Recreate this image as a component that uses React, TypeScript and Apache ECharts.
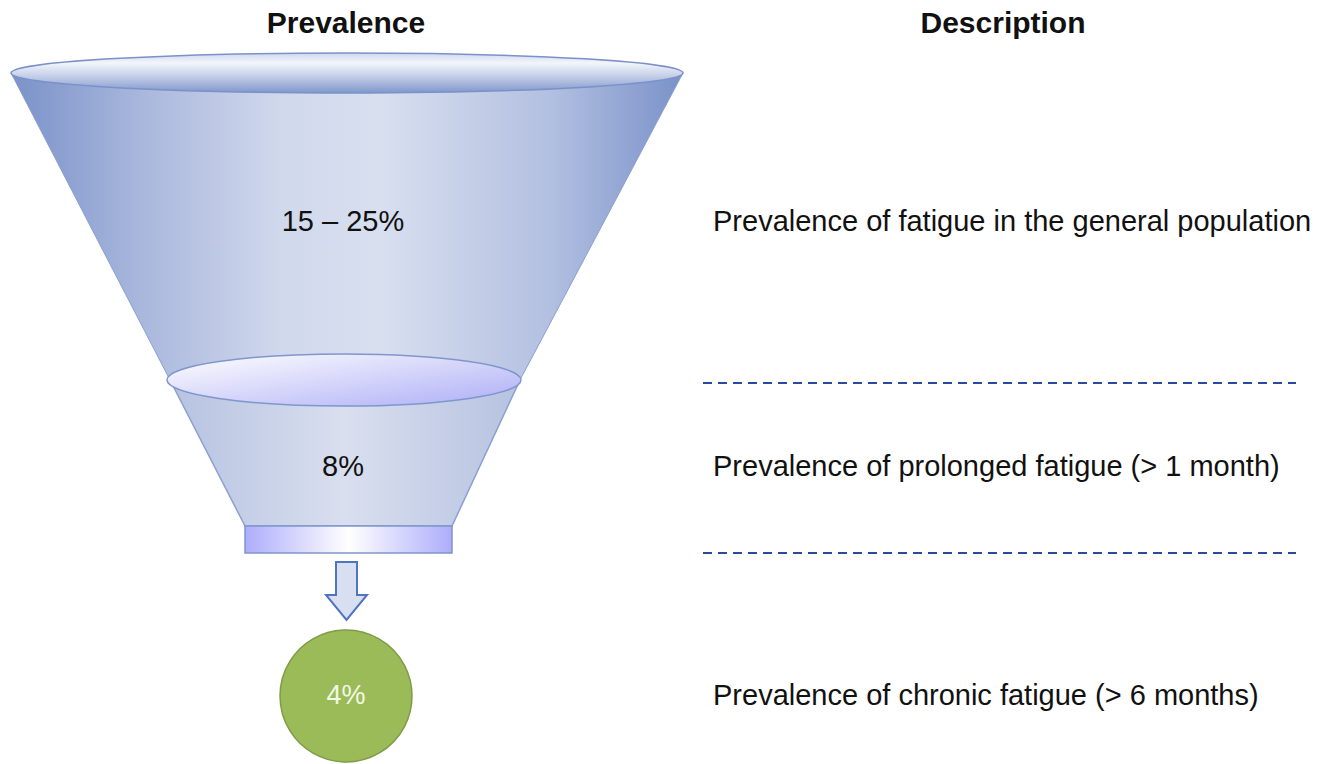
import React, { useEffect, useRef } from "react";
import * as echarts from "echarts";

const headers = ["Prevalence", "Description"];
const prevalenceLabels = ["15 – 25%", "8%", "4%"];
const descriptions = [
  "Prevalence of fatigue in the general population",
  "Prevalence of prolonged fatigue (> 1 month)",
  "Prevalence of chronic fatigue (> 6 months)",
];

const FONT = '"Liberation Sans", Arial, sans-serif';

function txt(text: string, x: number, y: number, opts: any = {}) {
  const align = opts.align || "center";
  return {
    type: "text",
    x,
    y,
    z: 10,
    style: {
      text,
      fontSize: opts.size || 29,
      fontFamily: FONT,
      fontWeight: opts.bold ? "bold" : "normal",
      fill: opts.color || "#111111",
      align,
      verticalAlign: "middle",
      textAlign: align,
      textVerticalAlign: "middle",
    },
  };
}

export default function App() {
  const ref = useRef<HTMLDivElement>(null);
  useEffect(() => {
    document.body.style.margin = "0";
    const chart = echarts.init(ref.current!, null, { renderer: "svg" });
    const L = echarts.graphic.LinearGradient;
    const rowY = [221, 466, 695];
    const elements: any[] = [
      // upper funnel body
      {
        type: "polygon",
        z: 1,
        shape: { points: [[11, 73], [683, 73], [520, 380], [170, 380]] },
        style: {
          fill: new L(0, 0, 1, 0, [
            { offset: 0, color: "#7a92c9" },
            { offset: 0.2, color: "#aab8dd" },
            { offset: 0.4, color: "#d0d8ec" },
            { offset: 0.55, color: "#d8dfef" },
            { offset: 0.8, color: "#b3c0e1" },
            { offset: 1, color: "#7a92c9" },
          ]),
          stroke: "#8aa0d2",
          lineWidth: 1,
        },
      },
      // lower funnel body
      {
        type: "polygon",
        z: 1,
        shape: { points: [[170, 380], [520, 380], [452, 526], [245, 526]] },
        style: {
          fill: new L(0, 0, 1, 0, [
            { offset: 0, color: "#b6c2e1" },
            { offset: 0.5, color: "#d9dfee" },
            { offset: 1, color: "#b6c2e1" },
          ]),
          stroke: "#8aa0d2",
          lineWidth: 1.5,
        },
      },
      // middle ellipse
      {
        type: "ellipse",
        z: 2,
        shape: { cx: 344, cy: 380, rx: 177, ry: 26 },
        style: {
          fill: new L(0, 0, 1, 1, [
            { offset: 0, color: "#ffffff" },
            { offset: 1, color: "#adadf7" },
          ]),
          stroke: "#7f97cc",
          lineWidth: 1.5,
        },
      },
      // top ellipse
      {
        type: "ellipse",
        z: 2,
        shape: { cx: 347, cy: 73, rx: 336, ry: 20 },
        style: {
          fill: new L(0, 0, 0, 1, [
            { offset: 0, color: "#cfd8ee" },
            { offset: 0.25, color: "#f3f5fb" },
            { offset: 0.55, color: "#c9d2ea" },
            { offset: 1, color: "#7f97cc" },
          ]),
          stroke: "#7a92c9",
          lineWidth: 1.5,
        },
      },
      // bottom rim rect
      {
        type: "rect",
        z: 2,
        shape: { x: 245, y: 526, width: 207, height: 27 },
        style: {
          fill: new L(0, 0, 1, 0, [
            { offset: 0, color: "#adadfc" },
            { offset: 0.5, color: "#ffffff" },
            { offset: 1, color: "#adadfc" },
          ]),
          stroke: "#7f97cc",
          lineWidth: 1.5,
        },
      },
      // arrow
      {
        type: "polygon",
        z: 2,
        shape: {
          points: [
            [336, 562], [357, 562], [357, 595], [367, 595],
            [346.5, 620], [326, 595], [336, 595],
          ],
        },
        style: { fill: "#d8dff0", stroke: "#4f74c0", lineWidth: 2 },
      },
      // circle
      {
        type: "circle",
        z: 2,
        shape: { cx: 346, cy: 696, r: 66 },
        style: { fill: "#9bbb59", stroke: "#7f9c46", lineWidth: 1.5 },
      },
      // dashed separators
      {
        type: "line",
        z: 2,
        shape: { x1: 703, y1: 383, x2: 1296, y2: 383 },
        style: { stroke: "#2a4a9e", lineWidth: 2, lineDash: [9, 6] },
      },
      {
        type: "line",
        z: 2,
        shape: { x1: 703, y1: 553, x2: 1296, y2: 553 },
        style: { stroke: "#2a4a9e", lineWidth: 2, lineDash: [9, 6] },
      },
      txt(headers[0], 346, 22, { bold: true, size: 30 }),
      txt(headers[1], 1003, 22, { bold: true, size: 30 }),
      txt(prevalenceLabels[0], 343, rowY[0]),
      txt(prevalenceLabels[1], 343, rowY[1]),
      txt(prevalenceLabels[2], 346, rowY[2], { color: "#f2f7e4", size: 27 }),
      ...descriptions.map((d, i) => txt(d, 713, rowY[i], { align: "left" })),
    ];
    chart.setOption({
      animation: false,
      backgroundColor: "#ffffff",
      graphic: { elements },
    });
    return () => chart.dispose();
  }, []);
  return <div ref={ref} style={{ width: 1338, height: 764 }} />;
}
